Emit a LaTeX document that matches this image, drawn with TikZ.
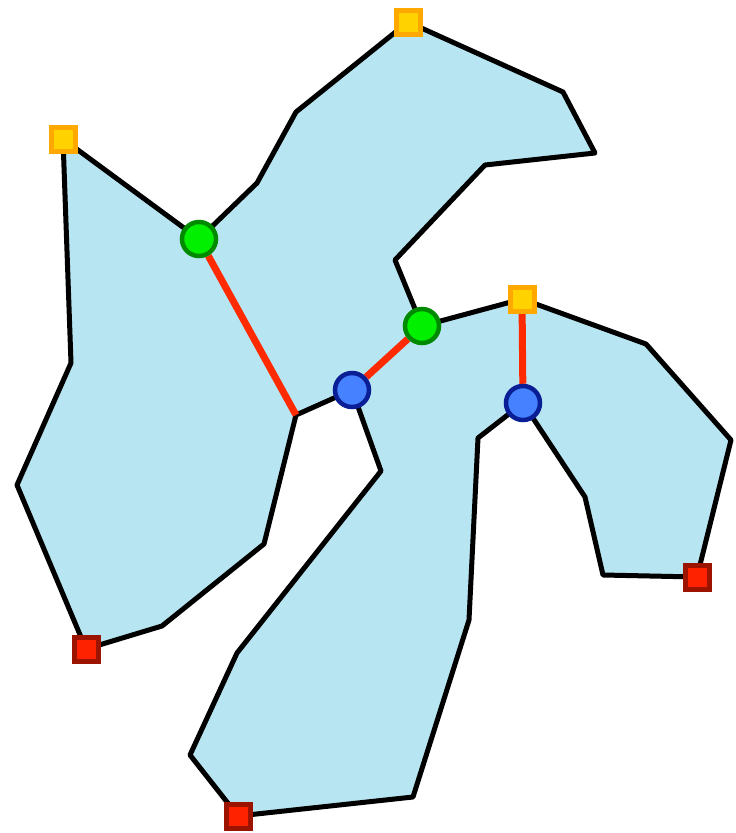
\documentclass[tikz,border=0pt]{standalone}
\definecolor{polyfill}{HTML}{B7E5F2}
\definecolor{linkred}{HTML}{FF2A00}
\definecolor{gfill}{HTML}{00F000}
\definecolor{gdraw}{HTML}{008A00}
\definecolor{bfill}{HTML}{4682FF}
\definecolor{bdraw}{HTML}{0A1E96}
\definecolor{yfill}{HTML}{FFD200}
\definecolor{ydraw}{HTML}{FFA800}
\definecolor{rfill}{HTML}{FF2200}
\definecolor{rdraw}{HTML}{9A1400}
\pgfdeclarelayer{bg}
\pgfsetlayers{bg,main}
\tikzset{
  outline/.style={draw=black,line width=5pt,fill=polyfill,line join=round},
  link/.style={draw=linkred,line width=7pt},
  gdot/.style={circle,fill=gfill,draw=gdraw,line width=4.5pt,minimum size=34pt,inner sep=0pt},
  bdot/.style={circle,fill=bfill,draw=bdraw,line width=4.5pt,minimum size=34pt,inner sep=0pt},
  ysq/.style={rectangle,fill=yfill,draw=ydraw,line width=5pt,minimum size=24pt,inner sep=0pt},
  rsq/.style={rectangle,fill=rfill,draw=rdraw,line width=5pt,minimum size=24pt,inner sep=0pt}
}
\begin{document}
\begin{tikzpicture}[x=1pt,y=-1pt]
\useasboundingbox (0,0) rectangle (736,833);
% polygon vertices
\coordinate (y1) at (63,139);
\coordinate (g1c) at (199,239);
\coordinate (p1) at (257,183);
\coordinate (p2) at (296,112);
\coordinate (y2) at (408,22);
\coordinate (p3) at (563,92);
\coordinate (p4) at (595,153);
\coordinate (p5) at (485,165);
\coordinate (p6) at (395,260);
\coordinate (g2c) at (422,326);
\coordinate (y3) at (522,299);
\coordinate (p7) at (646,344);
\coordinate (p8) at (731,440);
\coordinate (r3) at (697,577);
\coordinate (p9) at (603,575);
\coordinate (p10) at (585,497);
\coordinate (b2c) at (523,403);
\coordinate (p11) at (478,438);
\coordinate (p12) at (469,620);
\coordinate (p13) at (413,797);
\coordinate (r4) at (238,816);
\coordinate (p14) at (190,755);
\coordinate (p15) at (237,653);
\coordinate (p16) at (381,471);
\coordinate (b1c) at (352,390);
\coordinate (p17) at (296,415);
\coordinate (p18) at (264,544);
\coordinate (p19) at (162,626);
\coordinate (r1) at (86,649);
\coordinate (p20) at (17,485);
\coordinate (p21) at (71,363);
% markers
\node[gdot] (g1) at (g1c) {};
\node[gdot] (g2) at (g2c) {};
\node[bdot] (b1) at (b1c) {};
\node[bdot] (b2) at (b2c) {};
\node[ysq] (ya) at (y1) {};
\node[ysq] (yb) at (y2) {};
\node[ysq] (yc) at (y3) {};
\node[rsq] (ra) at (r1) {};
\node[rsq] (rb) at (r3) {};
\node[rsq] (rc) at (r4) {};
\begin{pgfonlayer}{bg}
\path[outline] (y1) -- (g1c) -- (p1) -- (p2) -- (y2) -- (p3) -- (p4) -- (p5) -- (p6)
  -- (g2c) -- (y3) -- (p7) -- (p8) -- (r3) -- (p9) -- (p10) -- (b2c) -- (p11) -- (p12)
  -- (p13) -- (r4) -- (p14) -- (p15) -- (p16) -- (b1c) -- (p17) -- (p18) -- (p19)
  -- (r1) -- (p20) -- (p21) -- cycle;
\draw[link] (g1) -- (p17);
\draw[link] (g2) -- (b1);
\draw[link] (yc) -- (b2);
\end{pgfonlayer}
\end{tikzpicture}
\end{document}
